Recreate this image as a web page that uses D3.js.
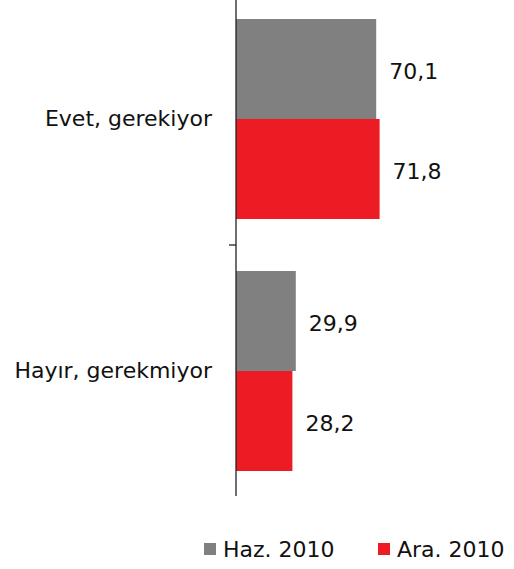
<!DOCTYPE html>
<html>
<head>
<meta charset="utf-8">
<script src="https://cdn.jsdelivr.net/npm/d3@7"></script>
<style>
  body { margin: 0; background: #fff; }
  svg { display: block; font-family: "DejaVu Sans", Verdana, sans-serif; }
</style>
</head>
<body>
<svg width="514" height="569"></svg>
<script>
var categories = ["Evet, gerekiyor", "Hayır, gerekmiyor"];
var seriesNames = ["Haz. 2010", "Ara. 2010"];
var haz2010 = [70.1, 29.9];
var ara2010 = [71.8, 28.2];
var colors = ["#808080", "#ED1C24"];

var svg = d3.select("svg");
var fontSize = 22;
var fmt = v => d3.format(".1f")(v).replace(".", ",");

var x = d3.scaleLinear().domain([0, 100]).range([236, 436]);
var y = d3.scaleBand().domain(categories).range([-7, 497]);
var inner = d3.scaleBand().domain(seriesNames)
    .range([0, y.bandwidth()]).paddingOuter(0.26).paddingInner(0);

var rows = categories.map((c, i) => ({
    cat: c,
    vals: [haz2010[i], ara2010[i]].map((v, j) => ({ name: seriesNames[j], v: v, color: colors[j] }))
}));

var g = svg.selectAll("g.cat").data(rows).enter().append("g")
    .attr("transform", d => "translate(0," + y(d.cat) + ")");

g.selectAll("rect").data(d => d.vals).enter().append("rect")
    .attr("x", x(0))
    .attr("y", d => inner(d.name))
    .attr("width", d => x(d.v) - x(0))
    .attr("height", inner.bandwidth())
    .attr("fill", d => d.color);

g.selectAll("text.val").data(d => d.vals).enter().append("text")
    .attr("class", "val")
    .attr("x", d => x(d.v) + 13)
    .attr("y", d => inner(d.name) + inner.bandwidth() / 2 + 2)
    .attr("dy", "0.35em")
    .attr("font-size", fontSize)
    .attr("fill", "#111")
    .text(d => fmt(d.v));

// category axis
var axis = svg.append("g").attr("transform", "translate(" + x(0) + ",0)")
    .call(d3.axisLeft(y).tickSize(0).tickPadding(24));
axis.select(".domain").attr("stroke", "#222").attr("stroke-width", 1.3)
    .attr("d", "M0,0V496");
axis.selectAll("text").attr("font-size", fontSize).attr("fill", "#111")
    .attr("font-family", "DejaVu Sans, Verdana, sans-serif");

// tick between categories
svg.append("line")
    .attr("x1", x(0) - 7).attr("x2", x(0))
    .attr("y1", y(categories[1])).attr("y2", y(categories[1]))
    .attr("stroke", "#222").attr("stroke-width", 1.3);

// legend
var legendX = [204, 378];
var lg = svg.selectAll("g.legend").data(seriesNames).enter().append("g")
    .attr("transform", (d, i) => "translate(" + legendX[i] + ",543)");
lg.append("rect").attr("width", 12).attr("height", 12)
    .attr("fill", (d, i) => colors[i]);
lg.append("text").attr("x", 19).attr("y", 6).attr("dy", "0.35em")
    .attr("font-size", fontSize).attr("fill", "#111")
    .text(d => d);
</script>
</body>
</html>
